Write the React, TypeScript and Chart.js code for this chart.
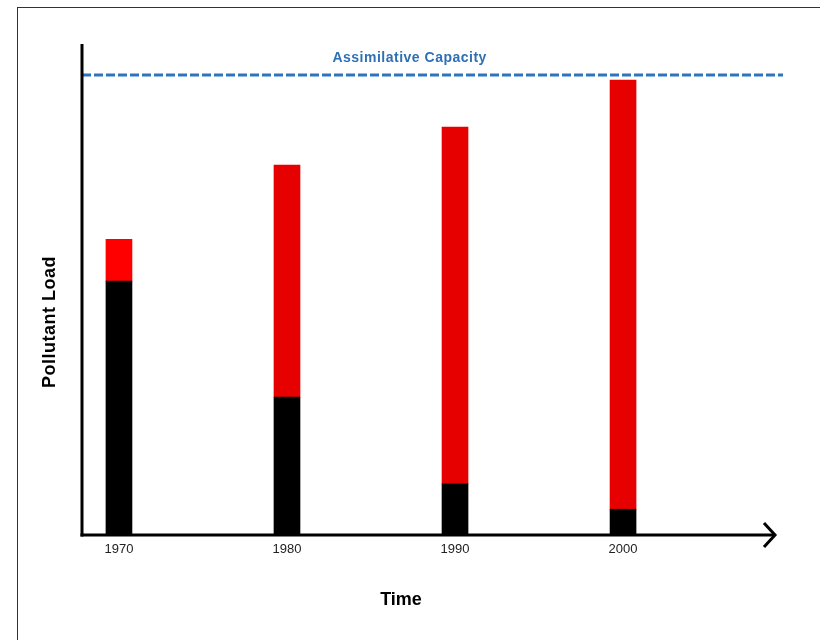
import React, { useEffect, useRef } from "react";
import { Chart, registerables } from "chart.js";

Chart.register(...registerables);

const years = [1970, 1980, 1990, 2000];
const pointSourceLoad = [55.2, 30.0, 11.1, 5.6];
const nonpointSourceLoad = [9.1, 50.4, 77.6, 93.3];
const barColorsRed = ["#ff0000", "#e60000", "#e60000", "#e60000"];
const assimilativeCapacity = 100;
const xRange = [1967.8, 2009.52];
const yRange = [0, 106.74];
const capacityLabel = "Assimilative Capacity";
const xTitle = "Time";
const yTitle = "Pollutant Load";

const FONT = '"Liberation Sans", Arial, sans-serif';

const decorPlugin = {
  id: "decor",
  afterDatasetsDraw(chart: any) {
    const { ctx, chartArea, scales } = chart;
    const xs = scales.x;
    const ys = scales.y;
    ctx.save();
    // axes
    ctx.strokeStyle = "#000";
    ctx.lineWidth = 3;
    ctx.lineCap = "butt";
    ctx.beginPath();
    ctx.moveTo(chartArea.left, chartArea.top);
    ctx.lineTo(chartArea.left, chartArea.bottom + 1.5);
    ctx.stroke();
    const xEnd = chartArea.right - 8;
    ctx.beginPath();
    ctx.moveTo(chartArea.left - 1.5, chartArea.bottom);
    ctx.lineTo(xEnd, chartArea.bottom);
    ctx.stroke();
    // arrow head
    ctx.beginPath();
    ctx.moveTo(xEnd - 11, chartArea.bottom - 12);
    ctx.lineTo(xEnd, chartArea.bottom);
    ctx.lineTo(xEnd - 11, chartArea.bottom + 12);
    ctx.stroke();
    // capacity label
    const capY = ys.getPixelForValue(assimilativeCapacity);
    ctx.fillStyle = "#2e70b5";
    ctx.font = `bold 14px ${FONT}`;
    (ctx as any).letterSpacing = "0.5px";
    ctx.textAlign = "center";
    ctx.textBaseline = "middle";
    ctx.fillText(capacityLabel, xs.getPixelForValue(1987.3), capY - 17);
    // titles
    ctx.fillStyle = "#000";
    ctx.font = `bold 18px ${FONT}`;
    (ctx as any).letterSpacing = "0px";
    ctx.fillText(xTitle, 401, 600);
    (ctx as any).letterSpacing = "0.5px";
    ctx.translate(50, 322);
    ctx.rotate(-Math.PI / 2);
    ctx.fillText(yTitle, 0, 0);
    (ctx as any).letterSpacing = "0px";
    ctx.restore();
  },
};

export default function App() {
  const canvasRef = useRef<HTMLCanvasElement | null>(null);

  useEffect(() => {
    if (!canvasRef.current) return;
    const chart = new Chart(canvasRef.current, {
      type: "bar",
      data: {
        datasets: [
          {
            type: "bar",
            label: "Point Sources",
            data: years.map((y, i) => ({ x: y, y: pointSourceLoad[i] })),
            backgroundColor: "#000000",
            barThickness: 26,
            order: 2,
          },
          {
            type: "bar",
            label: "Nonpoint Sources",
            data: years.map((y, i) => ({ x: y, y: nonpointSourceLoad[i] })),
            backgroundColor: barColorsRed,
            barThickness: 26,
            order: 2,
          },
          {
            type: "line",
            label: capacityLabel,
            data: [
              { x: xRange[0], y: assimilativeCapacity },
              { x: xRange[1], y: assimilativeCapacity },
            ],
            borderColor: "#2e75c0",
            borderWidth: 3,
            borderDash: [9, 3],
            pointRadius: 0,
            fill: false,
            clip: false,
            order: 1,
          } as any,
        ],
      },
      options: {
        animation: false,
        responsive: false,
        maintainAspectRatio: false,
        layout: { padding: { left: 82, right: 37, top: 44, bottom: 0 } },
        plugins: {
          legend: { display: false },
          tooltip: { enabled: false },
        },
        scales: {
          x: {
            type: "linear",
            offset: false,
            min: xRange[0],
            max: xRange[1],
            stacked: true,
            grid: { display: false, drawTicks: false, offset: false },
            border: { display: false },
            afterBuildTicks: (scale: any) => {
              scale.ticks = years.map((v) => ({ value: v }));
            },
            afterFit: (scale: any) => {
              scale.height = 105;
            },
            ticks: {
              padding: 7,
              color: "#222",
              font: { family: FONT, size: 13 },
              callback: (v: any) => String(v),
              maxRotation: 0,
              autoSkip: false,
            },
          },
          y: {
            min: yRange[0],
            max: yRange[1],
            stacked: true,
            grid: { display: false, drawTicks: false },
            border: { display: false },
            ticks: { display: false },
            afterFit: (scale: any) => {
              scale.width = 0;
            },
          },
        },
      } as any,
      plugins: [decorPlugin],
    });
    return () => chart.destroy();
  }, []);

  return (
    <div style={{ position: "absolute", left: 0, top: 0, width: 820, height: 640, overflow: "hidden", background: "#fff" }}>
      <div
        style={{
          position: "absolute",
          left: 17,
          top: 7,
          width: 810,
          height: 700,
          border: "1px solid #333",
          boxSizing: "border-box",
        }}
      />
      <canvas ref={canvasRef} width={820} height={640} style={{ position: "absolute", left: 0, top: 0 }} />
    </div>
  );
}
